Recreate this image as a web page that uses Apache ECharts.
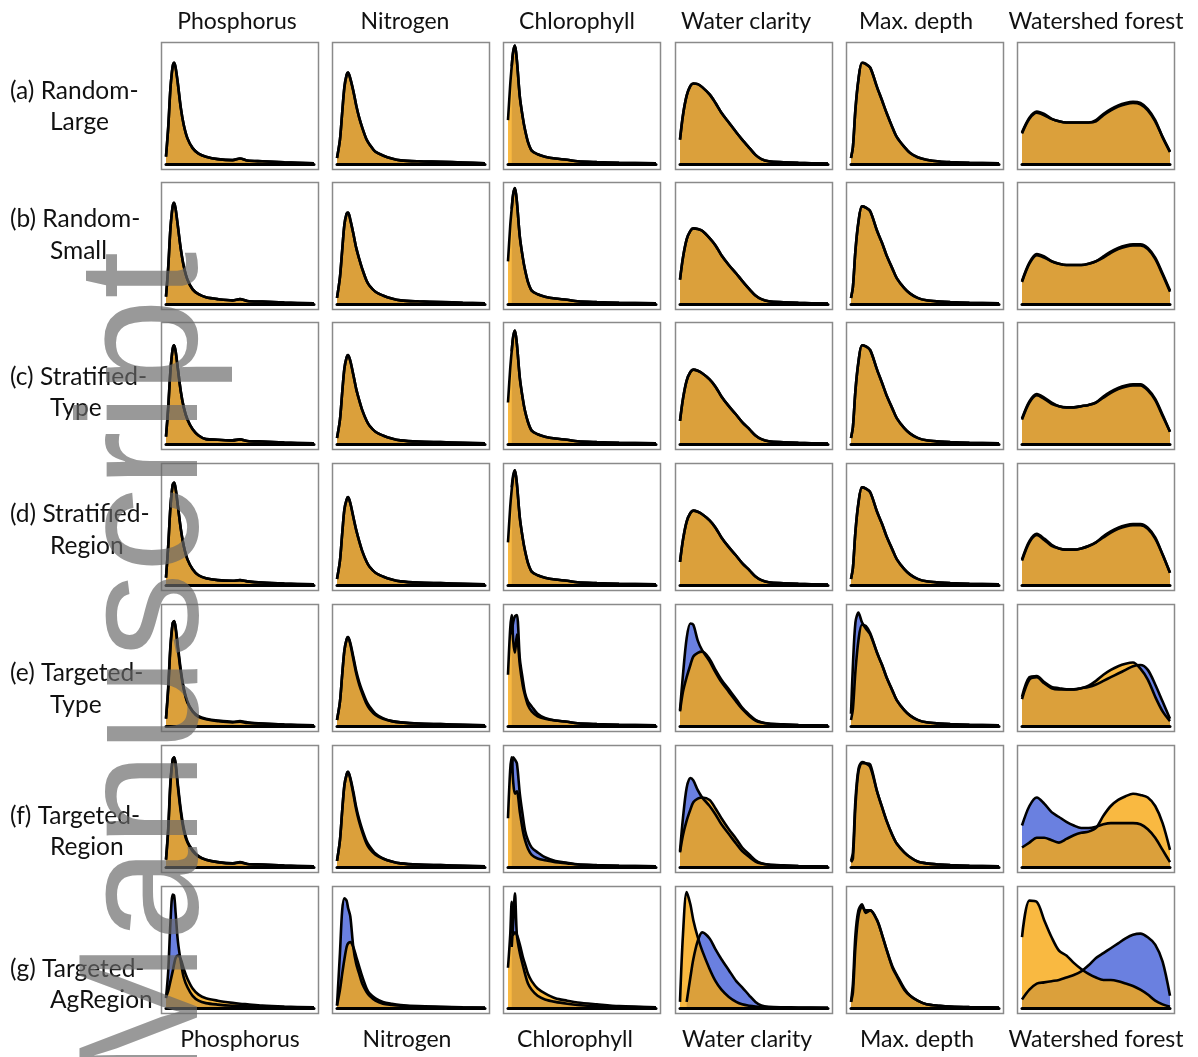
<!DOCTYPE html>
<html><head><meta charset="utf-8">
<script src="https://cdn.jsdelivr.net/npm/echarts@6/dist/echarts.min.js"></script>
<style>html,body{margin:0;padding:0;background:#fff}#c{width:1198px;height:1057px}</style>
</head><body><div id="c"></div>
<script>
// ---------- categories ----------
const columnTitles = ['Phosphorus','Nitrogen','Chlorophyll','Water clarity','Max. depth','Watershed forest'];
const rowLine1 = ['(a) Random-','(b) Random-','(c) Stratified-','(d) Stratified-','(e) Targeted-','(f) Targeted-','(g) Targeted-'];
const rowLine2 = ['Large','Small','Type','Region','Type','Region','AgRegion'];
const watermark = 'Manuscript';

// ---------- x positions (fraction of each variable's range) ----------
const xPhos   = [0,.015,.03,.045,.055,.065,.08,.1,.12,.145,.18,.22,.27,.35,.45,.5,.55,.65,.8,1];
const xNitro  = [0,.02,.035,.05,.065,.075,.09,.11,.13,.15,.17,.2,.22,.26,.31,.37,.43,.55,.7,.85,1];
const xChl    = [0,.015,.025,.035,.047,.06,.08,.1,.115,.135,.16,.2,.25,.32,.4,.47,.6,.75,1];
const xClar   = [0,.02,.045,.07,.09,.12,.15,.2,.24,.28,.33,.38,.42,.47,.51,.55,.6,.7,.8,1];
const xDepth  = [0,.013,.03,.05,.074,.1,.13,.176,.21,.24,.28,.31,.36,.4,.45,.51,.6,.67,.8,1];
const xForest = [0,.05,.1,.15,.2,.25,.3,.35,.4,.45,.5,.55,.6,.65,.7,.75,.8,.85,.9,.95,1];

// ---------- densities (relative height), rows a..g ----------
// population (blue)
const phosPop = [
 [.06,.3,.62,.8,.83,.79,.66,.46,.32,.21,.13,.085,.06,.04,.032,.045,.028,.022,.014,.005],
 [.06,.3,.62,.8,.83,.78,.64,.45,.31,.2,.12,.08,.055,.04,.03,.04,.025,.02,.012,.005],
 [.06,.3,.6,.78,.81,.76,.62,.43,.3,.2,.12,.07,.04,.035,.03,.038,.025,.02,.012,.005],
 [.06,.32,.64,.82,.84,.79,.65,.46,.32,.21,.13,.08,.055,.04,.035,.04,.03,.02,.012,.005],
 [.06,.3,.64,.84,.86,.81,.66,.46,.31,.2,.12,.075,.055,.04,.03,.035,.025,.02,.012,.005],
 [.06,.3,.68,.88,.9,.85,.68,.47,.32,.21,.14,.09,.06,.04,.03,.038,.025,.02,.012,.005],
 [.08,.3,.7,.93,.92,.78,.55,.38,.25,.17,.1,.06,.04,.028,.018,.016,.013,.009,.005,.003]];
// sample (orange)
const phosSmp = [
 [.06,.3,.62,.8,.83,.79,.66,.46,.32,.21,.13,.085,.06,.04,.032,.045,.028,.022,.014,.005],
 [.06,.3,.62,.8,.83,.78,.64,.45,.31,.2,.12,.08,.055,.04,.03,.04,.025,.02,.012,.005],
 [.06,.3,.6,.78,.81,.76,.62,.43,.3,.2,.12,.07,.04,.035,.03,.038,.025,.02,.012,.005],
 [.06,.32,.64,.82,.84,.79,.65,.46,.32,.21,.13,.08,.055,.04,.035,.04,.03,.02,.012,.005],
 [.06,.32,.66,.84,.86,.8,.64,.44,.3,.19,.12,.08,.06,.045,.035,.04,.03,.02,.012,.005],
 [.06,.32,.7,.88,.9,.84,.66,.45,.3,.2,.13,.085,.06,.04,.03,.04,.025,.02,.012,.005],
 [.09,.14,.22,.3,.36,.41,.43,.4,.32,.24,.16,.11,.08,.06,.042,.035,.03,.02,.012,.005]];

const nitroPop = [
 [.05,.2,.42,.63,.73,.75,.7,.6,.48,.38,.3,.2,.16,.1,.07,.045,.03,.022,.018,.012,.005],
 [.05,.22,.44,.65,.74,.75,.69,.58,.46,.37,.29,.19,.15,.1,.07,.045,.03,.022,.016,.01,.005],
 [.05,.2,.42,.62,.71,.73,.68,.57,.45,.36,.28,.19,.15,.1,.07,.045,.03,.02,.015,.01,.005],
 [.05,.2,.42,.62,.7,.72,.67,.56,.45,.36,.28,.19,.15,.1,.07,.045,.03,.02,.015,.01,.005],
 [.05,.2,.42,.62,.71,.73,.68,.57,.45,.36,.29,.2,.16,.1,.065,.04,.03,.02,.015,.01,.005],
 [.05,.22,.46,.67,.76,.78,.73,.62,.49,.39,.31,.21,.17,.11,.07,.045,.03,.02,.015,.01,.005],
 [.02,.45,.8,.9,.88,.82,.75,.5,.36,.28,.2,.13,.1,.06,.035,.025,.018,.01,.007,.004,.002]];
const nitroSmp = [
 [.05,.2,.42,.63,.73,.75,.7,.6,.48,.38,.3,.2,.16,.1,.07,.045,.03,.022,.018,.012,.005],
 [.05,.22,.44,.65,.74,.75,.69,.58,.46,.37,.29,.19,.15,.1,.07,.045,.03,.022,.016,.01,.005],
 [.05,.2,.42,.62,.71,.73,.68,.57,.45,.36,.28,.19,.15,.1,.07,.045,.03,.02,.015,.01,.005],
 [.05,.2,.42,.62,.7,.72,.67,.56,.45,.36,.28,.19,.15,.1,.07,.045,.03,.02,.015,.01,.005],
 [.05,.2,.42,.62,.71,.73,.67,.55,.43,.34,.27,.18,.14,.09,.06,.04,.03,.02,.015,.01,.005],
 [.05,.22,.46,.67,.76,.78,.72,.6,.47,.37,.29,.19,.15,.1,.07,.045,.03,.02,.015,.01,.005],
 [.02,.15,.28,.4,.5,.53,.54,.5,.42,.34,.26,.16,.12,.08,.05,.035,.025,.015,.01,.006,.003]];

const chlPop = [
 [null,null,.8,.92,.97,.85,.55,.38,.28,.18,.11,.08,.06,.045,.035,.022,.015,.01,.005],
 [null,null,.78,.9,.95,.84,.55,.38,.28,.18,.11,.08,.06,.045,.035,.022,.015,.01,.005],
 [null,null,.76,.88,.93,.82,.54,.37,.27,.18,.11,.08,.06,.045,.035,.022,.015,.01,.005],
 [null,null,.8,.9,.94,.83,.55,.38,.28,.18,.11,.08,.06,.045,.035,.022,.015,.01,.005],
 [null,null,.75,.85,.9,.91,.55,.38,.27,.2,.16,.1,.065,.045,.035,.022,.015,.01,.005],
 [null,null,.8,.9,.88,.85,.6,.42,.3,.22,.16,.12,.08,.05,.035,.022,.015,.01,.005],
 [null,null,.5,.7,.94,.6,.45,.35,.28,.2,.15,.1,.07,.05,.035,.025,.015,.01,.005]];
const chlSmp = [
 [.36,.65,.8,.92,.97,.85,.55,.38,.28,.18,.11,.08,.06,.045,.035,.022,.015,.01,.005],
 [.35,.64,.78,.9,.95,.84,.55,.38,.28,.18,.11,.08,.06,.045,.035,.022,.015,.01,.005],
 [.34,.62,.76,.88,.93,.82,.54,.37,.27,.18,.11,.08,.06,.045,.035,.022,.015,.01,.005],
 [.35,.64,.78,.88,.94,.83,.55,.38,.28,.18,.11,.08,.06,.045,.035,.022,.015,.01,.005],
 [.42,.8,.91,.7,.6,.75,.5,.33,.25,.17,.12,.08,.06,.045,.035,.022,.015,.01,.005],
 [.4,.8,.9,.7,.6,.62,.45,.3,.22,.15,.1,.07,.055,.04,.03,.02,.014,.01,.005],
 [.33,.6,.87,.6,.62,.6,.52,.42,.36,.28,.22,.16,.12,.08,.06,.045,.03,.015,.005]];

const clarPop = [
 [.2,.4,.56,.64,.66,.655,.63,.57,.5,.42,.34,.26,.2,.13,.075,.04,.022,.014,.009,.003],
 [.2,.38,.53,.6,.62,.615,.6,.54,.48,.4,.32,.25,.19,.12,.07,.04,.022,.014,.009,.003],
 [.19,.37,.52,.59,.61,.6,.58,.53,.47,.39,.31,.24,.18,.12,.07,.04,.022,.014,.009,.003],
 [.19,.37,.52,.59,.61,.6,.58,.53,.47,.39,.31,.24,.18,.12,.07,.04,.022,.014,.009,.003],
 [.13,.42,.72,.84,.83,.7,.62,.53,.44,.36,.28,.2,.14,.08,.045,.028,.018,.012,.008,.003],
 [.13,.4,.65,.73,.71,.63,.57,.5,.43,.35,.27,.19,.13,.08,.045,.028,.018,.012,.008,.003],
 [null,null,.05,.25,.4,.55,.62,.57,.48,.4,.31,.22,.17,.1,.05,.02,.01,.006,.004,.002]];
const clarSmp = [
 [.2,.4,.56,.64,.66,.655,.63,.57,.5,.42,.34,.26,.2,.13,.075,.04,.022,.014,.009,.003],
 [.2,.38,.53,.6,.62,.615,.6,.54,.48,.4,.32,.25,.19,.12,.07,.04,.022,.014,.009,.003],
 [.19,.37,.52,.59,.61,.6,.58,.53,.47,.39,.31,.24,.18,.12,.07,.04,.022,.014,.009,.003],
 [.19,.37,.52,.59,.61,.6,.58,.53,.47,.39,.31,.24,.18,.12,.07,.04,.022,.014,.009,.003],
 [.12,.28,.4,.5,.57,.6,.61,.55,.46,.38,.3,.22,.15,.09,.05,.03,.02,.013,.008,.003],
 [.12,.26,.38,.47,.53,.56,.57,.55,.48,.4,.31,.23,.16,.1,.055,.03,.02,.013,.008,.003],
 [.05,.6,.95,.85,.72,.58,.47,.32,.22,.15,.09,.05,.03,.018,.012,.008,.005,.003,.002,.001]];

const depthPop = [
 [.05,.14,.45,.69,.83,.82,.79,.63,.52,.42,.3,.22,.14,.09,.055,.035,.02,.015,.01,.005],
 [.05,.14,.44,.67,.8,.79,.76,.6,.5,.4,.29,.21,.13,.085,.05,.03,.02,.015,.01,.005],
 [.05,.14,.44,.67,.81,.8,.77,.61,.5,.4,.29,.21,.13,.085,.05,.03,.02,.015,.01,.005],
 [.05,.14,.44,.67,.8,.79,.76,.6,.5,.4,.29,.21,.13,.085,.05,.03,.02,.015,.01,.005],
 [.1,.5,.85,.93,.85,.8,.75,.6,.5,.4,.29,.21,.13,.085,.05,.03,.02,.015,.01,.005],
 [.05,.12,.55,.8,.86,.85,.82,.62,.49,.38,.26,.19,.12,.08,.045,.03,.02,.015,.01,.005],
 [.05,.2,.6,.8,.85,.78,.8,.72,.6,.48,.34,.27,.16,.1,.06,.03,.018,.012,.007,.003]];
const depthSmp = [
 [.05,.14,.45,.69,.83,.82,.79,.63,.52,.42,.3,.22,.14,.09,.055,.035,.02,.015,.01,.005],
 [.05,.14,.44,.67,.8,.79,.76,.6,.5,.4,.29,.21,.13,.085,.05,.03,.02,.015,.01,.005],
 [.05,.14,.44,.67,.81,.8,.77,.61,.5,.4,.29,.21,.13,.085,.05,.03,.02,.015,.01,.005],
 [.05,.14,.44,.67,.8,.79,.76,.6,.5,.4,.29,.21,.13,.085,.05,.03,.02,.015,.01,.005],
 [.05,.14,.45,.7,.83,.82,.76,.6,.5,.4,.29,.21,.13,.085,.05,.03,.02,.015,.01,.005],
 [.04,.07,.5,.78,.85,.85,.84,.62,.49,.38,.26,.19,.12,.08,.045,.03,.02,.015,.01,.005],
 [.05,.13,.5,.75,.83,.8,.8,.72,.6,.48,.33,.26,.15,.1,.06,.03,.018,.012,.007,.003]];

const forestPop = [
 [.26,.38,.43,.41,.37,.35,.34,.34,.34,.34,.36,.41,.45,.48,.5,.51,.5,.45,.36,.22,.1],
 [.19,.34,.41,.39,.35,.33,.32,.32,.32,.33,.35,.39,.43,.46,.48,.49,.49,.46,.38,.25,.11],
 [.21,.35,.41,.38,.34,.31,.3,.3,.31,.32,.34,.39,.43,.46,.48,.49,.49,.45,.37,.24,.1],
 [.21,.36,.42,.38,.33,.3,.29,.29,.3,.32,.35,.4,.44,.47,.49,.5,.5,.47,.39,.25,.1],
 [.24,.4,.41,.36,.32,.31,.3,.3,.31,.32,.34,.37,.4,.43,.46,.49,.5,.46,.34,.2,.06],
 [.34,.5,.57,.52,.45,.41,.37,.34,.32,.32,.33,.35,.36,.36,.36,.36,.35,.31,.24,.14,.04],
 [.07,.15,.2,.21,.22,.23,.25,.27,.3,.35,.41,.45,.49,.53,.57,.6,.61,.58,.52,.38,.1]];
const forestSmp = [
 [.25,.37,.42,.4,.37,.35,.34,.34,.34,.34,.35,.4,.44,.47,.49,.5,.49,.44,.35,.22,.1],
 [.18,.33,.4,.38,.35,.33,.32,.32,.32,.33,.35,.38,.42,.45,.47,.48,.48,.45,.37,.24,.1],
 [.2,.34,.4,.37,.33,.31,.3,.3,.31,.32,.34,.38,.42,.45,.47,.48,.48,.44,.36,.23,.1],
 [.2,.35,.41,.37,.32,.3,.29,.29,.3,.32,.35,.39,.43,.46,.48,.49,.49,.46,.38,.25,.1],
 [.22,.38,.4,.35,.31,.3,.3,.3,.31,.33,.37,.42,.46,.49,.51,.52,.47,.38,.24,.12,.04],
 [.16,.2,.24,.24,.22,.2,.23,.26,.28,.29,.32,.42,.5,.55,.58,.6,.59,.57,.5,.36,.14],
 [.58,.88,.87,.72,.58,.47,.43,.37,.32,.28,.25,.23,.23,.22,.2,.18,.15,.11,.06,.03,.01]];

// ---------- layout ----------
const colLeft = [161, 332, 503, 675, 846, 1017];
const rowTop  = [42, 182, 322, 463, 604, 745, 886];
const topTitleX = [237, 405, 577, 746, 916, 1096];
const botTitleX = [240, 407, 575, 747, 917, 1096];
const rowLabelY = [[91,122],[219,251],[377,408],[514,546],[673,705],[816,847],[969,1000]];

const cols = [
  {x:xPhos, pop:phosPop, smp:phosSmp},
  {x:xNitro, pop:nitroPop, smp:nitroSmp},
  {x:xChl, pop:chlPop, smp:chlSmp},
  {x:xClar, pop:clarPop, smp:clarSmp},
  {x:xDepth, pop:depthPop, smp:depthSmp},
  {x:xForest, pop:forestPop, smp:forestSmp}
];

const BLUE = '#6a80e0';
const ORANGE = 'rgb(247,167,18)';
const FONT = 'Lato, "Open Sans", sans-serif';

const grid = [], xAxis = [], yAxis = [], series = [], graphic = [];
let k = 0;
for (let r = 0; r < 7; r++) {
  for (let c = 0; c < 6; c++) {
    const col = cols[c];
    grid.push({left: colLeft[c] + 5, top: rowTop[r], width: 148, height: 122, outerBoundsMode: 'none'});
    xAxis.push({gridIndex: k, type: 'value', min: 0, max: 1, z: 10,
      axisLine: {show: true, onZero: false, lineStyle: {color: '#000', width: 3}},
      axisTick: {show: false}, axisLabel: {show: false}, splitLine: {show: false}});
    yAxis.push({gridIndex: k, type: 'value', min: 0, max: 1, show: false, splitLine: {show: false}});
    const mk = arr => col.x.map((xv, i) => [xv, arr[i]]).filter(p => p[1] != null);
    const common = {type: 'line', xAxisIndex: k, yAxisIndex: k, symbol: 'none', smooth: 0.3,
      silent: true, animation: false, clip: true};
    series.push(Object.assign({}, common, {data: mk(col.pop[r]),
      lineStyle: {color: '#000', width: 2.6}, areaStyle: {color: BLUE, opacity: 1}}));
    series.push(Object.assign({}, common, {data: mk(col.smp[r]),
      lineStyle: {color: '#000', width: 2.6}, areaStyle: {color: ORANGE, opacity: 0.8}}));
    graphic.push({type: 'rect', silent: true, z: 50,
      shape: {x: colLeft[c] + 0.5, y: rowTop[r] + 0.5, width: 157, height: 127},
      style: {fill: null, stroke: '#8a8a8a', lineWidth: 1.5}});
    k++;
  }
}
for (let c = 0; c < 6; c++) {
  graphic.push({type: 'text', silent: true, z: 60, x: topTitleX[c], y: 22,
    style: {text: columnTitles[c], font: '23px ' + FONT, fill: '#111', textAlign: 'center', textVerticalAlign: 'middle', align: 'center', verticalAlign: 'middle'}});
  graphic.push({type: 'text', silent: true, z: 60, x: botTitleX[c], y: 1040,
    style: {text: columnTitles[c], font: '23px ' + FONT, fill: '#111', textAlign: 'center', textVerticalAlign: 'middle', align: 'center', verticalAlign: 'middle'}});
}
for (let r = 0; r < 7; r++) {
  graphic.push({type: 'text', silent: true, z: 60, x: 10, y: rowLabelY[r][0],
    style: {text: rowLine1[r], font: '24.5px ' + FONT, fill: '#111', textAlign: 'left', textVerticalAlign: 'middle', align: 'left', verticalAlign: 'middle'}});
  graphic.push({type: 'text', silent: true, z: 60, x: 50, y: rowLabelY[r][1],
    style: {text: rowLine2[r], font: '24.5px ' + FONT, fill: '#111', textAlign: 'left', textVerticalAlign: 'middle', align: 'left', verticalAlign: 'middle'}});
}
graphic.push({type: 'text', silent: true, z: 100, x: 150, y: 1083, rotation: Math.PI / 2,
  style: {text: watermark, font: '170px "Liberation Sans", Arial, sans-serif', fill: 'rgba(105,105,105,0.68)',
    textAlign: 'left', textVerticalAlign: 'middle', align: 'left', verticalAlign: 'middle'}});

const chart = echarts.init(document.getElementById('c'), null, {renderer: 'canvas'});
chart.setOption({backgroundColor: '#fff', animation: false, grid, xAxis, yAxis, series, graphic});
</script></body></html>
